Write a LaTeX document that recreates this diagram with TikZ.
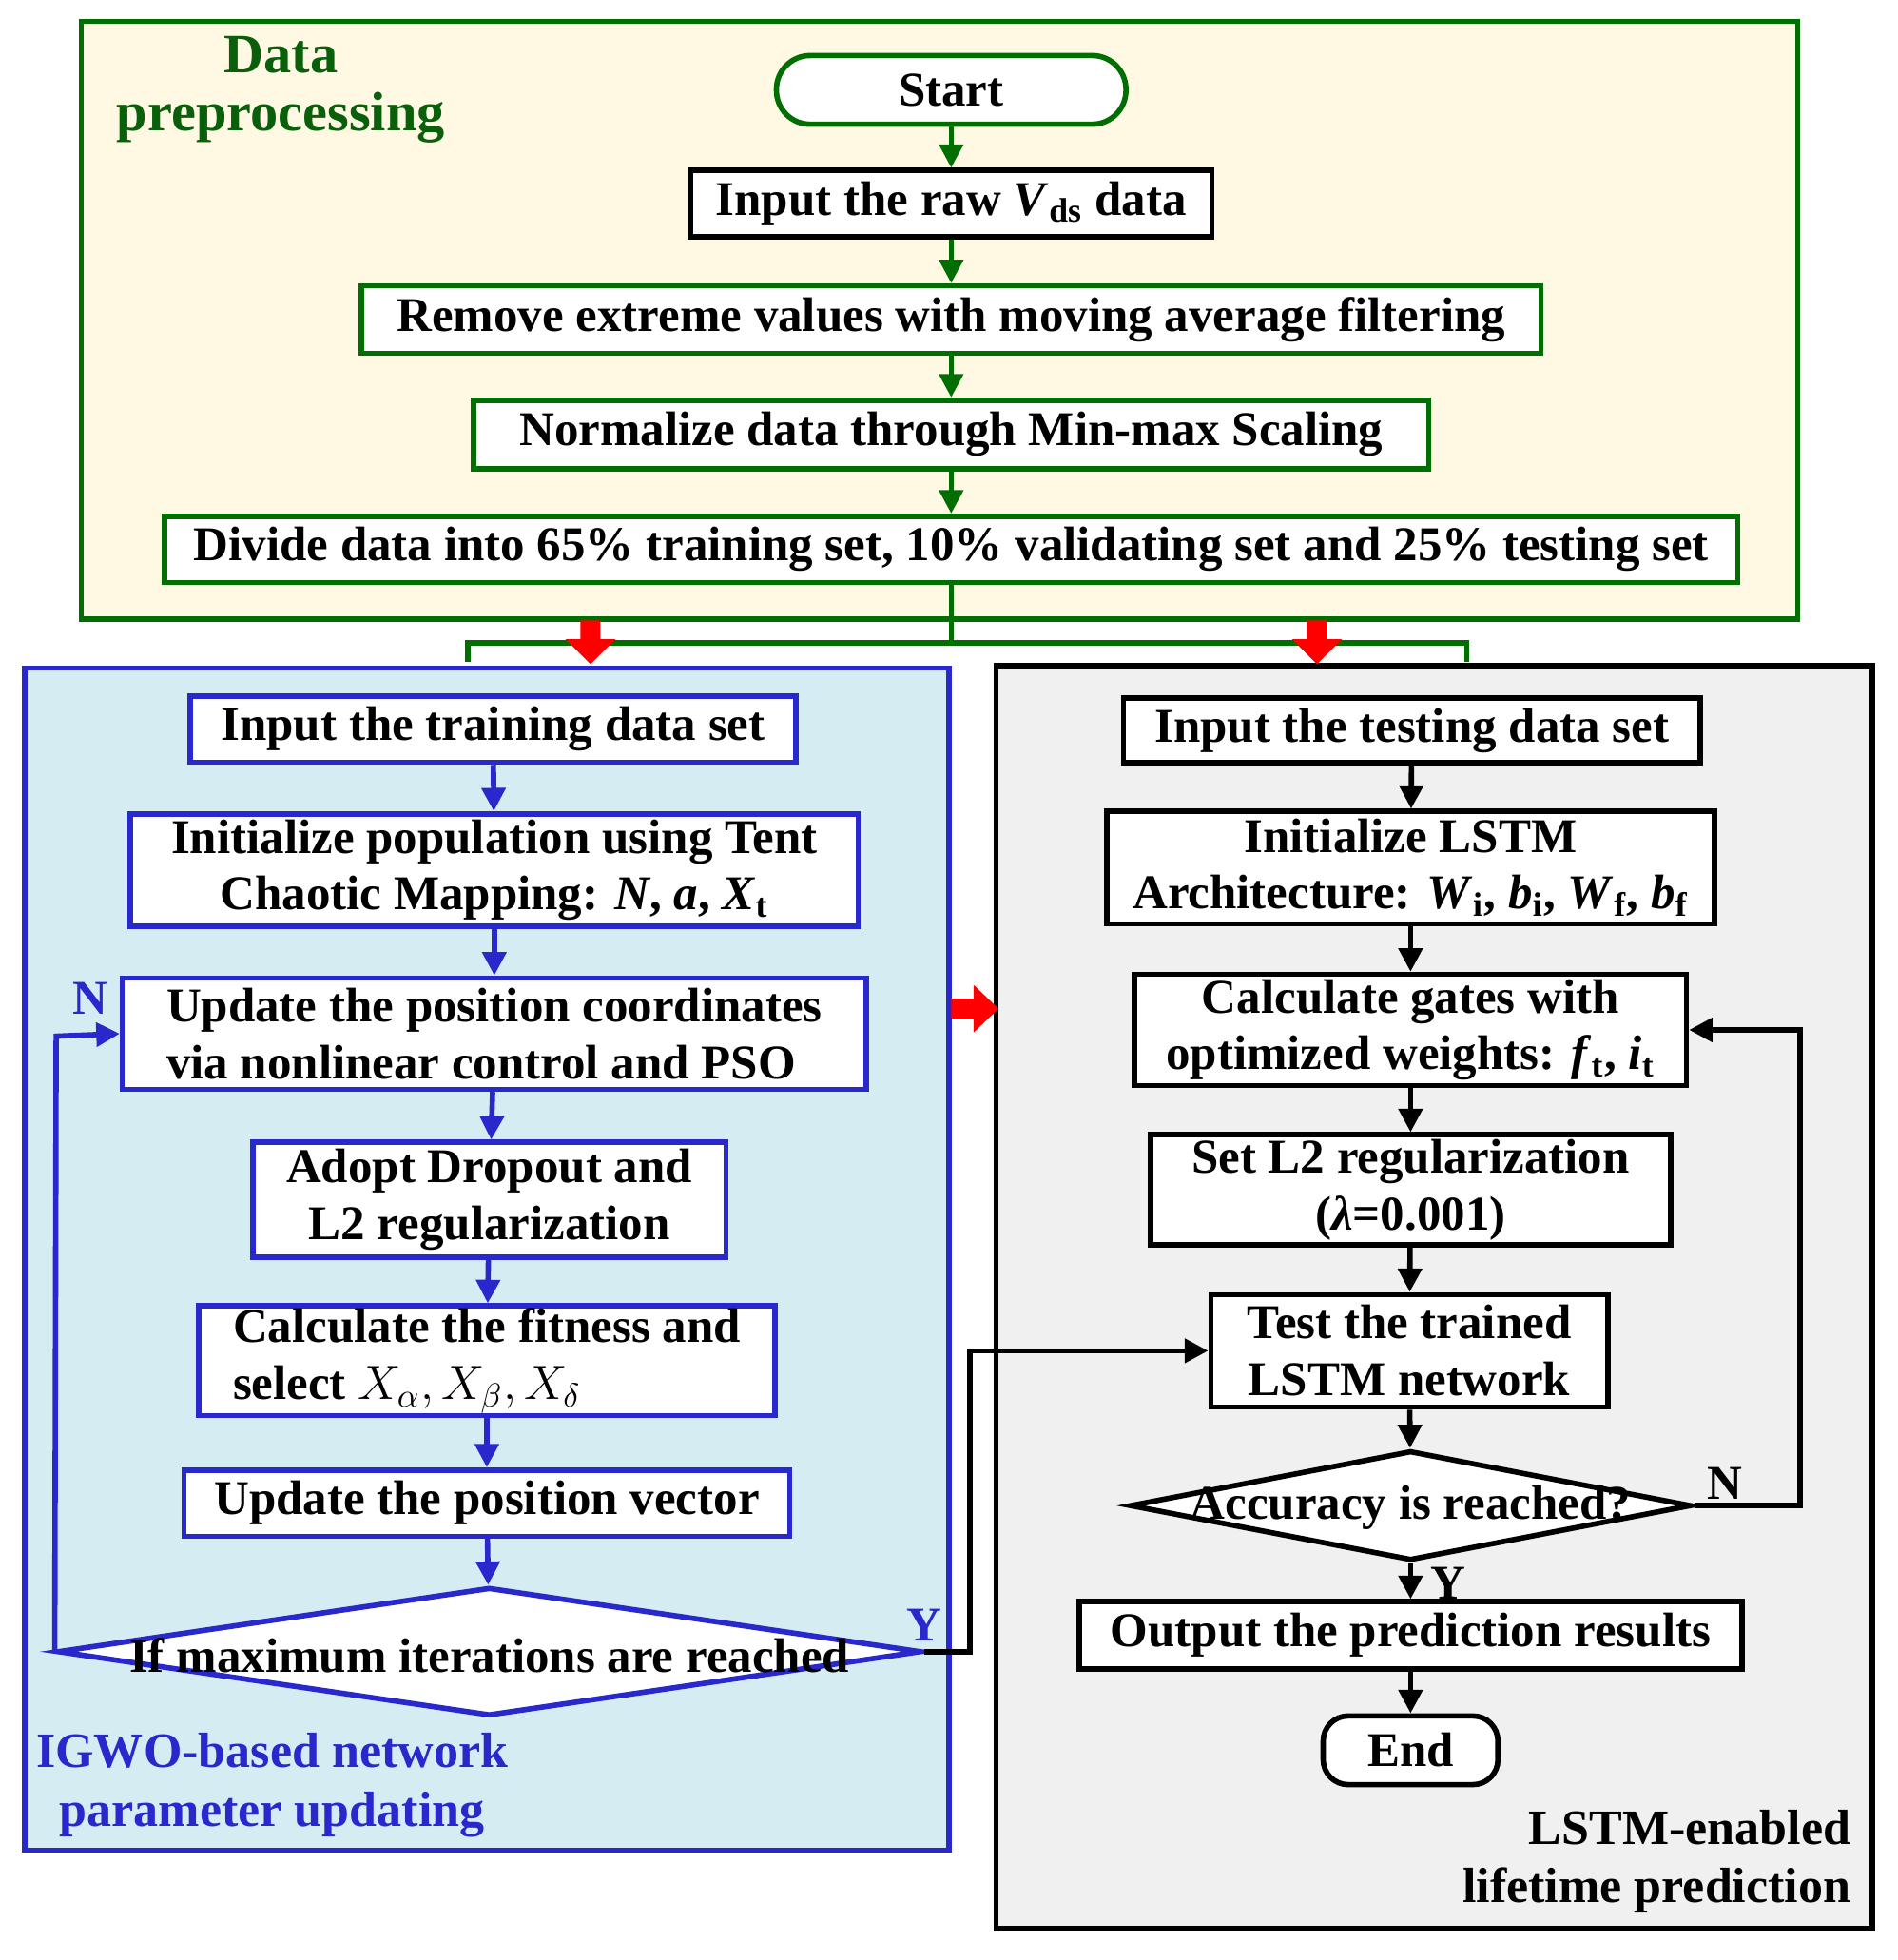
\documentclass[tikz,border=0pt]{standalone}
\usepackage{fontspec}
\setmainfont{Liberation Serif}
\usepackage{tikz}
\usetikzlibrary{arrows.meta,shapes.geometric}
\definecolor{grn}{RGB}{0,110,0}
\definecolor{dgrn}{RGB}{10,95,10}
\definecolor{blu}{RGB}{40,40,205}
\definecolor{cream}{RGB}{255,249,228}
\definecolor{lblue}{RGB}{212,236,242}
\definecolor{lgray}{RGB}{240,240,240}
\newcommand{\px}{0.01313cm}
\begin{document}
\begin{tikzpicture}[x=\px, y=-\px, >={Triangle[width=7pt,length=7pt]},
  font=\fontsize{14.5}{17}\selectfont\bfseries,
  box/.style={rectangle, draw, line width=1.6pt, fill=white, inner sep=0pt, align=center},
  gbox/.style={box, draw=grn},
  bbox/.style={box, draw=blu},
  kbox/.style={box, draw=black},
  dec/.style={diamond, draw, line width=1.6pt, fill=white, inner sep=0pt},
  flow/.style={->, line width=1.6pt},
  redarr/.style={fill=red}]
  \useasboundingbox (0,0) rectangle (1520,1570);

  % panels
  \draw[grn, line width=1.6pt, fill=cream] (65,17) rectangle (1440,496);
  \draw[blu, line width=1.6pt, fill=lblue] (20,535) rectangle (760,1482);
  \draw[black, line width=1.6pt, fill=lgray] (798,533) rectangle (1500,1545);

  \node[dgrn, font=\fontsize{16.6}{17.5}\selectfont\bfseries, align=center] at (225,72) {Data\\preprocessing};
  \node[blu, font=\fontsize{14.8}{17.5}\selectfont\bfseries, align=center] at (218,1430) {IGWO-based network\\parameter updating};
  \node[font=\fontsize{14.8}{17.5}\selectfont\bfseries, align=right, anchor=east] at (1492,1491) {LSTM-enabled\\lifetime prediction};

  % preprocessing
  \node[gbox, rounded corners={27*\px}, minimum width={280*\px}, minimum height={55*\px}] (start) at (762,72) {Start};
  \node[kbox, minimum width={418*\px}, minimum height={53*\px}] (raw) at (762,163) {Input the raw \textit{V}\textsubscript{ds} data};
  \node[gbox, minimum width={945*\px}, minimum height={54*\px}] (remove) at (762,256) {Remove extreme values with moving average filtering};
  \node[gbox, minimum width={765*\px}, minimum height={55*\px}] (norm) at (762,348) {Normalize data through Min-max Scaling};
  \node[gbox, minimum width={1260*\px}, minimum height={53*\px}] (divide) at (762,440) {Divide data into 65\% training set, 10\% validating set and 25\% testing set};
  \foreach \a/\b in {start/raw, raw/remove, remove/norm, norm/divide}
    \draw[flow, grn] (\a) -- (\b);
  \coordinate (split) at (762,515);
  \draw[grn, line width=1.6pt] (divide) -- (split);
  \draw[grn, line width=1.6pt] (375,530) -- (375,515) -- (1175,515) -- (1175,530);
  \foreach \x in {473,1055}
    \fill[redarr] (\x-8,497) -- (\x+8,497) -- (\x+8,512) -- (\x+20,512) -- (\x,532) -- (\x-20,512) -- (\x-8,512) -- cycle;
  \fill[redarr] (762,800) -- (780,800) -- (780,789) -- (800,808) -- (780,827) -- (780,816) -- (762,816) -- cycle;

  % IGWO
  \node[bbox, minimum width={485*\px}, minimum height={53*\px}] (train) at (395,584) {Input the training data set};
  \node[bbox, minimum width={583*\px}, minimum height={90*\px}] (init) at (396,697) {Initialize population using Tent\\Chaotic Mapping: \textit{N}, \textit{a}, \textit{X}\textsubscript{t}};
  \node[bbox, minimum width={596*\px}, minimum height={89*\px}, align=left] (upd) at (396,828) {Update the position coordinates\\via nonlinear control and PSO};
  \node[bbox, minimum width={379*\px}, minimum height={92*\px}] (drop) at (392,961) {Adopt Dropout and\\L2 regularization};
  \node[bbox, minimum width={462*\px}, minimum height={88*\px}, align=left] (fit) at (390,1090) {Calculate the fitness and\\select $X_\alpha, X_\beta, X_\delta$};
  \node[bbox, minimum width={485*\px}, minimum height={53*\px}] (vec) at (390,1204) {Update the position vector};
  \node[dec, draw=blu, minimum width={692*\px}, minimum height={103*\px}] (iter) at (392,1323) {};
  \node at (392,1326) {If maximum iterations are reached};
  \foreach \a/\b in {train/init, init/upd, upd/drop, drop/fit, fit/vec, vec/iter}
    \draw[flow, blu] (\a) -- (\b);
  \draw[flow, blu] (iter.west) -- (45,830) -- (upd.west);
  \node[blu] at (72,800) {N};
  \node[blu] at (740,1302) {Y};

  % LSTM
  \node[kbox, minimum width={462*\px}, minimum height={52*\px}] (test) at (1131,585) {Input the testing data set};
  \node[kbox, minimum width={487*\px}, minimum height={90*\px}] (lstm) at (1130,695) {Initialize LSTM\\Architecture: \textit{W}\textsubscript{i}, \textit{b}\textsubscript{i}, \textit{W}\textsubscript{f}, \textit{b}\textsubscript{f}};
  \node[kbox, minimum width={442*\px}, minimum height={89*\px}] (gates) at (1130,825) {Calculate gates with\\optimized weights: \textit{f}\textsubscript{t}, \textit{i}\textsubscript{t}};
  \node[kbox, minimum width={417*\px}, minimum height={88*\px}] (reg) at (1130,953) {Set L2 regularization\\(\textit{λ}=0.001)};
  \node[kbox, minimum width={318*\px}, minimum height={90*\px}] (tnet) at (1129,1082) {Test the trained\\LSTM network};
  \node[dec, draw=black, minimum width={450*\px}, minimum height={88*\px}] (acc) at (1130,1206) {};
  \node at (1130,1208) {Accuracy is reached?};
  \node[kbox, minimum width={531*\px}, minimum height={54*\px}] (out) at (1130,1310) {Output the prediction results};
  \node[kbox, rounded corners={20*\px}, minimum width={140*\px}, minimum height={55*\px}] (fin) at (1130,1402) {End};
  \foreach \a/\b in {test/lstm, lstm/gates, gates/reg, reg/tnet, tnet/acc, acc/out, out/fin}
    \draw[flow] (\a) -- (\b);
  \draw[flow] (acc.east) -- (1442,1206) -- (1442,825) -- (gates.east);
  \node at (1382,1188) {N};
  \node at (1160,1268) {Y};
  \draw[flow] (iter.east) -- (777,1323) -- (777,1082) -- (tnet.west);
\end{tikzpicture}
\end{document}
